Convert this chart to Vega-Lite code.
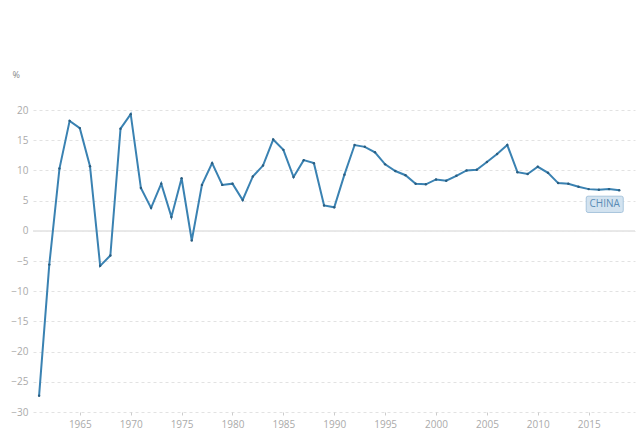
{
  "$schema": "https://vega.github.io/schema/vega-lite/v6.json",
  "width": 602,
  "height": 302,
  "autosize": {"type": "none"},
  "padding": {"left": 33, "top": 110, "right": 5, "bottom": 28},
  "background": "white",
  "config": {
    "view": {"stroke": null},
    "font": "Open Sans",
    "axis": {"labelFont": "Open Sans", "titleFont": "Open Sans"}
  },
  "data": {
    "values": [
      {"year": 1961, "value": -27.3}, {"year": 1962, "value": -5.6}, {"year": 1963, "value": 10.3},
      {"year": 1964, "value": 18.2}, {"year": 1965, "value": 17.0}, {"year": 1966, "value": 10.7},
      {"year": 1967, "value": -5.8}, {"year": 1968, "value": -4.1}, {"year": 1969, "value": 16.9},
      {"year": 1970, "value": 19.3}, {"year": 1971, "value": 7.1}, {"year": 1972, "value": 3.8},
      {"year": 1973, "value": 7.8}, {"year": 1974, "value": 2.3}, {"year": 1975, "value": 8.7},
      {"year": 1976, "value": -1.6}, {"year": 1977, "value": 7.6}, {"year": 1978, "value": 11.2},
      {"year": 1979, "value": 7.6}, {"year": 1980, "value": 7.8}, {"year": 1981, "value": 5.1},
      {"year": 1982, "value": 9.0}, {"year": 1983, "value": 10.8}, {"year": 1984, "value": 15.1},
      {"year": 1985, "value": 13.4}, {"year": 1986, "value": 8.9}, {"year": 1987, "value": 11.7},
      {"year": 1988, "value": 11.2}, {"year": 1989, "value": 4.2}, {"year": 1990, "value": 3.9},
      {"year": 1991, "value": 9.3}, {"year": 1992, "value": 14.2}, {"year": 1993, "value": 13.9},
      {"year": 1994, "value": 13.0}, {"year": 1995, "value": 11.0}, {"year": 1996, "value": 9.9},
      {"year": 1997, "value": 9.2}, {"year": 1998, "value": 7.8}, {"year": 1999, "value": 7.7},
      {"year": 2000, "value": 8.5}, {"year": 2001, "value": 8.3}, {"year": 2002, "value": 9.1},
      {"year": 2003, "value": 10.0}, {"year": 2004, "value": 10.1}, {"year": 2005, "value": 11.4},
      {"year": 2006, "value": 12.7}, {"year": 2007, "value": 14.2}, {"year": 2008, "value": 9.7},
      {"year": 2009, "value": 9.4}, {"year": 2010, "value": 10.6}, {"year": 2011, "value": 9.6},
      {"year": 2012, "value": 7.9}, {"year": 2013, "value": 7.8}, {"year": 2014, "value": 7.3},
      {"year": 2015, "value": 6.9}, {"year": 2016, "value": 6.8}, {"year": 2017, "value": 6.9},
      {"year": 2018, "value": 6.7}
    ]
  },
  "encoding": {
    "x": {
      "field": "year", "type": "quantitative",
      "scale": {"domain": [1960.4, 2019.55], "nice": false, "zero": false},
      "axis": {
        "values": [1965, 1970, 1975, 1980, 1985, 1990, 1995, 2000, 2005, 2010, 2015],
        "format": "d", "title": null, "grid": false, "domain": false,
        "tickColor": "#cccccc", "tickSize": 3, "labelPadding": 4,
        "labelColor": "#aaaaaa", "labelFontSize": 10
      }
    },
    "y": {
      "field": "value", "type": "quantitative",
      "scale": {"domain": [-30, 20], "nice": false},
      "axis": {
        "values": [-30, -25, -20, -15, -10, -5, 0, 5, 10, 15, 20],
        "title": "%", "titleAngle": 0, "titleX": -21, "titleY": -36,
        "titleAlign": "left", "titleBaseline": "middle",
        "titleFontWeight": "normal", "titleFontSize": 9, "titleColor": "#888888",
        "grid": true, "gridDash": [3, 3], "gridColor": "#e2e2e2",
        "domain": false, "ticks": false, "labelPadding": 5,
        "labelColor": "#aaaaaa", "labelFontSize": 10
      }
    }
  },
  "layer": [
    {
      "mark": {"type": "rule", "color": "#e8e8e8", "strokeWidth": 1},
      "encoding": {"y": {"datum": 0}, "x": null}
    },
    {
      "mark": {"type": "line", "color": "#3a82b2", "strokeWidth": 2}
    },
    {
      "mark": {"type": "point", "filled": true, "color": "#2a5d80", "size": 6, "opacity": 1}
    },
    {
      "transform": [{"filter": "datum.year == 2018"}],
      "mark": {
        "type": "point",
        "shape": "M-0.9,-0.44 L0.9,-0.44 Q1,-0.44 1,-0.34 L1,0.34 Q1,0.44 0.9,0.44 L-0.9,0.44 Q-1,0.44 -1,0.34 L-1,-0.34 Q-1,-0.44 -0.9,-0.44 Z",
        "size": 1369, "filled": true, "fill": "#d3e3f0", "stroke": "#a8c5dd", "strokeWidth": 1,
        "opacity": 1, "xOffset": -14.5, "yOffset": 14
      }
    },
    {
      "transform": [{"filter": "datum.year == 2018"}],
      "mark": {
        "type": "text", "text": "CHINA", "color": "#5a8cb5", "fontSize": 10,
        "align": "center", "baseline": "middle", "dx": -14.5, "dy": 14
      }
    }
  ]
}
